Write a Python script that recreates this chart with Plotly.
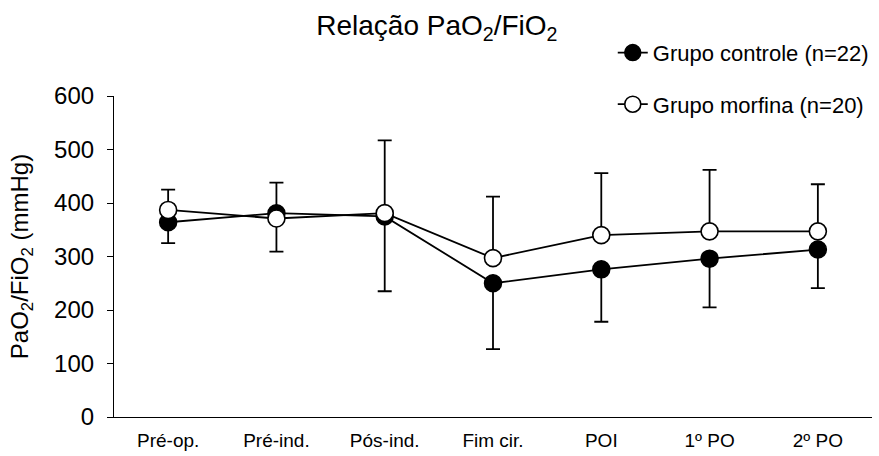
import plotly.graph_objects as go

categories = ["Pré-op.", "Pré-ind.", "Pós-ind.", "Fim cir.", "POI", "1º PO", "2º PO"]
controle_mean = [364, 381, 375, 250, 276, 296, 313]
controle_sd_down = [39, 72, 140, 123, 98, 91, 72]
morfina_mean = [387, 371, 381, 297, 340, 347, 347]
morfina_sd_up = [38, 67, 136, 115, 116, 115, 88]

fig = go.Figure()
fig.add_trace(go.Scatter(
    x=categories, y=controle_mean, mode="lines+markers",
    name="Grupo controle (n=22)", legendgroup="a",
    line=dict(color="black", width=1.8),
    marker=dict(symbol="circle", size=17, color="black", line=dict(color="black", width=1.5)),
    error_y=dict(type="data", symmetric=False, array=[0]*7, arrayminus=controle_sd_down,
                 color="black", thickness=1.8, width=7),
))
fig.add_trace(go.Scatter(
    x=categories, y=morfina_mean, mode="lines+markers",
    name="Grupo morfina (n=20)", legendgroup="b",
    line=dict(color="black", width=1.8),
    marker=dict(symbol="circle", size=17, color="white", line=dict(color="black", width=1.6)),
    error_y=dict(type="data", symmetric=False, array=morfina_sd_up, arrayminus=[0]*7,
                 color="black", thickness=1.8, width=7),
))

fig.update_layout(
    width=879, height=456,
    margin=dict(l=114, r=5, t=96, b=39),
    paper_bgcolor="white", plot_bgcolor="white",
    font=dict(family="Arial, Liberation Sans, sans-serif", color="black"),
    title=dict(text="Relação PaO<sub>2</sub>/FiO<sub>2</sub>", x=0.497, xref="container",
               y=0.945, yref="container", xanchor="center", yanchor="middle",
               font=dict(size=28)),
    showlegend=True,
    legend=dict(x=0.658, y=1.2, xref="paper", yref="paper", xanchor="left", yanchor="top",
                font=dict(size=22), tracegroupgap=20, bgcolor="rgba(0,0,0,0)",
                traceorder="grouped"),
    xaxis=dict(type="category", range=[-0.5, 6.5], showline=True, linecolor="black",
               linewidth=1.2, ticks="", showgrid=False, zeroline=False,
               tickfont=dict(size=19), ticklabelstandoff=6),
    yaxis=dict(range=[0, 600], tickvals=[0, 100, 200, 300, 400, 500, 600],
               showline=True, linecolor="black", linewidth=1.2, ticks="outside",
               ticklen=6, tickcolor="black", showgrid=False, zeroline=False,
               tickfont=dict(size=24), ticklabelstandoff=8,
               title=dict(text="PaO<sub>2</sub>/FiO<sub>2</sub> (mmHg)", font=dict(size=24),
                          standoff=18)),
)

fig.write_html("out.html")
